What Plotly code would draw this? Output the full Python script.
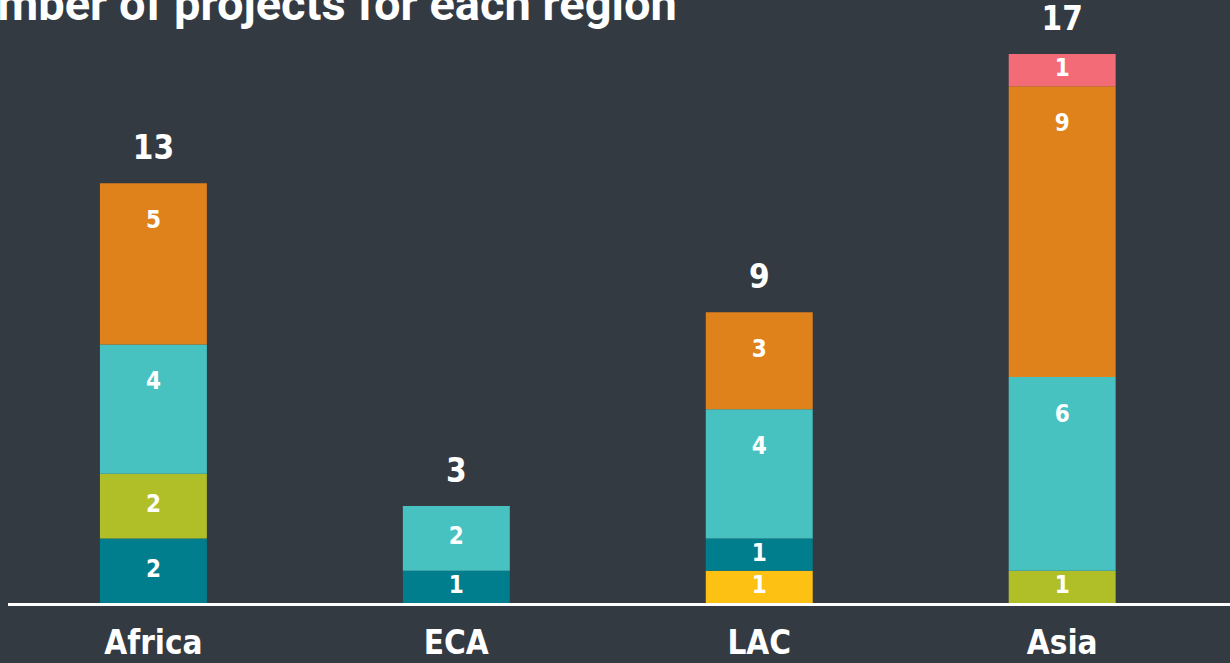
import plotly.graph_objects as go

regions = ["Africa", "ECA", "LAC", "Asia"]
series_names = ["Yellow group", "Dark teal group", "Olive group", "Turquoise group", "Orange group", "Pink group"]
yellow = [0, 0, 1, 0]
dark_teal = [2, 1, 1, 0]
olive = [2, 0, 0, 1]
turquoise = [4, 2, 4, 6]
orange = [5, 0, 3, 9]
pink = [0, 0, 0, 1]
series_values = [yellow, dark_teal, olive, turquoise, orange, pink]
colors = ["#fdc113", "#017e8e", "#b0bf28", "#47c2c1", "#df821c", "#f26b77"]
title_text = "Number of projects for each region"

BG = "#343a42"
FONT = "DejaVu Sans Condensed, sans-serif"

fig = go.Figure()
base = [0] * len(regions)
lab_x, lab_y, lab_t = [], [], []
for name, vals, col in zip(series_names, series_values, colors):
    fig.add_trace(go.Bar(
        x=regions, y=[v if v else None for v in vals], base=base[:], name=name,
        marker=dict(color=col, line=dict(width=0)), hoverinfo="x+y+name"))
    for i, v in enumerate(vals):
        if v:
            lab_x.append(regions[i])
            lab_y.append(max(base[i] + v / 2, base[i] + v - 1.2))
            lab_t.append(str(v))
    base = [b + v for b, v in zip(base, vals)]

totals = base
fig.add_trace(go.Scatter(
    x=lab_x, y=lab_y, text=lab_t, mode="text", textposition="middle center",
    textfont=dict(family=FONT, size=24, color="white", weight="bold"),
    hoverinfo="skip", showlegend=False))
fig.add_trace(go.Scatter(
    x=regions, y=[t + 1.0 for t in totals], text=[str(t) for t in totals], mode="text",
    textposition="middle center",
    textfont=dict(family=FONT, size=33, color="white", weight="bold"),
    hoverinfo="skip", showlegend=False))

fig.add_annotation(
    text=title_text, xref="paper", yref="paper", x=-72 / 1222, y=0.946,
    xanchor="left", yanchor="bottom", showarrow=False,
    font=dict(family="Roboto, sans-serif", size=47, color="white", weight="bold"))

fig.update_layout(
    width=1230, height=663, barmode="overlay", bargap=0.647,
    paper_bgcolor=BG, plot_bgcolor=BG, showlegend=False,
    margin=dict(l=8, r=0, t=0, b=60),
    xaxis=dict(range=[-0.48, 3.554], showline=True, linecolor="white", linewidth=3,
               showgrid=False, zeroline=False, ticks="", ticklabelstandoff=8,
               automargin=False,
               tickfont=dict(family=FONT, size=33, color="white", weight="bold")),
    yaxis=dict(range=[0, 18.67], visible=False, showgrid=False, zeroline=False,
               automargin=False),
)

post = (
    "document.body.style.margin='0';"
    "document.body.style.background='" + BG + "';"
)
fig.write_html("out.html", post_script=post, config={"displayModeBar": False})
